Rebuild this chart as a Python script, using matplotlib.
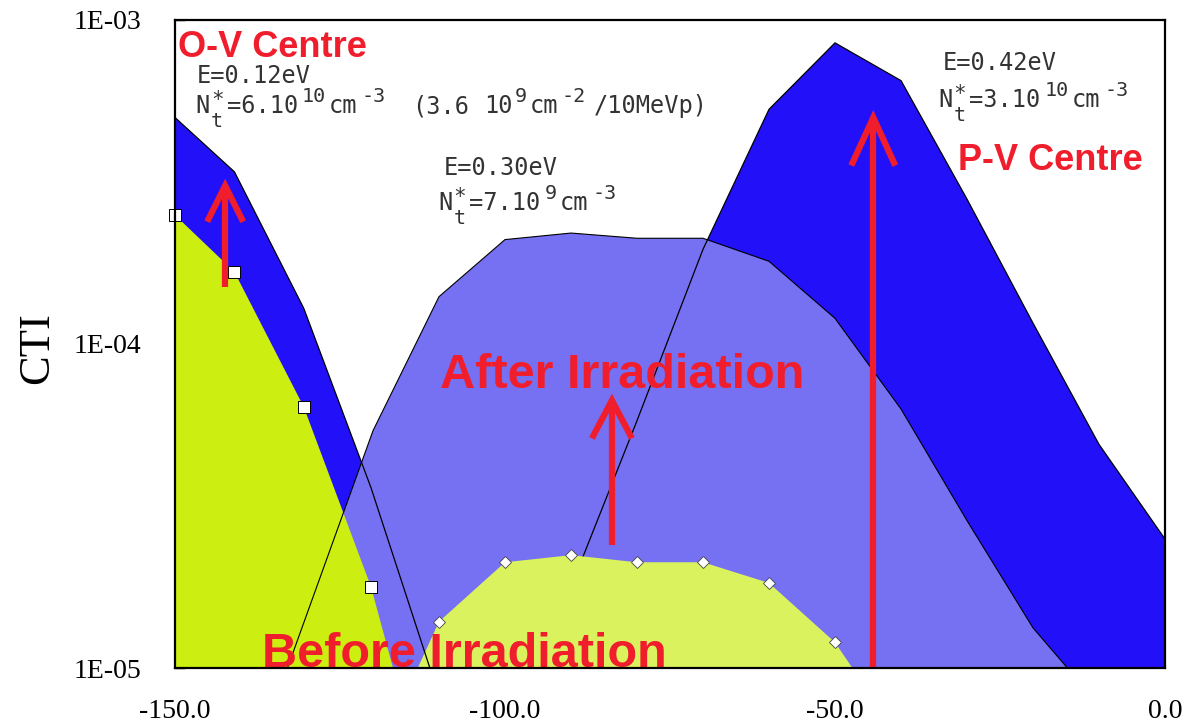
import numpy as np
import matplotlib
matplotlib.use("Agg")
import matplotlib.pyplot as plt

# ---- data -----------------------------------------------------------------
# O-V centre (E = 0.12 eV)
ov_x = [-150.0, -141.0, -130.5, -120.3, -110.0]
ov_before = [2.5e-4, 1.67e-4, 6.4e-5, 1.78e-5, 3.0e-6]
ov_after = [5.0e-4, 3.4e-4, 1.29e-4, 3.6e-5, 8.2e-6]

# E = 0.30 eV level
mid_before_x = [-120.0, -110.0, -100.0, -90.0, -80.0, -70.0, -60.0, -50.0, -40.0]
mid_before = [5.0e-6, 1.39e-5, 2.12e-5, 2.23e-5, 2.12e-5, 2.12e-5, 1.83e-5, 1.2e-5, 6.0e-6]
mid_after_x = [-140.0, -130.0, -120.0, -110.0, -100.0, -90.0, -80.0, -70.0,
               -60.0, -50.0, -40.0, -30.0, -20.0, -10.0]
mid_after = [4.0e-6, 1.47e-5, 5.4e-5, 1.4e-4, 2.1e-4, 2.2e-4, 2.12e-4, 2.12e-4,
             1.8e-4, 1.2e-4, 6.3e-5, 2.85e-5, 1.33e-5, 7.7e-6]

# P-V centre (E = 0.42 eV)
pv_x = [-100.0, -90.0, -80.0, -70.0, -60.0, -50.0, -40.0, -30.0, -20.0, -10.0, 0.0]
pv_after = [5.0e-6, 1.78e-5, 5.8e-5, 1.96e-4, 5.3e-4, 8.5e-4, 6.5e-4, 2.8e-4,
            1.16e-4, 4.9e-5, 2.5e-5]

x_ticks = [-150.0, -100.0, -50.0, 0.0]
x_tick_labels = ["-150.0", "-100.0", "-50.0", "0.0"]
y_ticks = [1e-5, 1e-4, 1e-3]
y_tick_labels = ["1E-05", "1E-04", "1E-03"]

# ---- styling ----------------------------------------------------------------
DARK_BLUE = "#2211F8"
PURPLE = "#7670F2"
YELLOW = "#CCEE11"
LIGHT_YELLOW = "#DAF25E"
RED = "#F01E2D"
TEXT_GREY = "#333333"
MONO = "DejaVu Sans Mono"

FLOOR = 1e-8
Y_MIN, Y_MAX = 1e-5, 1e-3

fig = plt.figure(figsize=(11.87, 7.23), dpi=100)
ax = fig.add_axes([0.14743, 0.07607, 0.83404, 0.89627])
ax.set_yscale("log")
ax.set_xlim(-150, 0)
ax.set_ylim(Y_MIN, Y_MAX)

# filled areas: after irradiation underneath, before irradiation on top
ax.fill_between(ov_x, ov_after, FLOOR, color=DARK_BLUE, lw=0, zorder=1)
ax.fill_between(pv_x, pv_after, FLOOR, color=DARK_BLUE, lw=0, zorder=1)
ax.fill_between(mid_after_x, mid_after, FLOOR, color=PURPLE, lw=0, zorder=2)
ax.plot(pv_x, pv_after, color="black", lw=0.9, zorder=2.5)
ax.fill_between(ov_x, ov_before, FLOOR, color=YELLOW, lw=0, zorder=3)
ax.fill_between(mid_before_x, mid_before, FLOOR, color=LIGHT_YELLOW, lw=0, zorder=3)
ax.plot(ov_x, ov_after, color="black", lw=0.9, zorder=4)
ax.plot(mid_after_x, mid_after, color="black", lw=0.8, zorder=4)

# measured points before irradiation
ovx = np.array(ov_x)
ovb = np.array(ov_before)
vis = ovb >= Y_MIN
ax.plot(ovx[vis], ovb[vis], ls="none", marker="s", ms=8, mfc="white",
        mec="black", mew=0.7, zorder=5, clip_on=False)
mbx = np.array(mid_before_x)
mb = np.array(mid_before)
vis = mb >= Y_MIN
ax.plot(mbx[vis], mb[vis], ls="none", marker="D", ms=6.5, mfc="white",
        mec="#444444", mew=0.6, zorder=5)

# ---- axes decoration ----------------------------------------------------------
serif = "Liberation Serif"
ax.set_xticks(x_ticks)
ax.set_xticklabels(x_tick_labels, fontfamily=serif, fontsize=20)
ax.set_yticks(y_ticks)
ax.set_yticklabels(y_tick_labels, fontfamily=serif, fontsize=20)
ax.yaxis.set_minor_locator(matplotlib.ticker.NullLocator())
ax.tick_params(axis="x", length=0, pad=22)
ax.tick_params(axis="y", direction="in", length=7, width=1, pad=24)
for sp in ax.spines.values():
    sp.set_linewidth(1.6)
    sp.set_zorder(8)

fig.text(37 / 1187, 1 - 348 / 723, "CTI", rotation=90, ha="center", va="center",
         fontfamily=serif, fontsize=32)

# ---- annotations ---------------------------------------------------------------
bold = dict(fontfamily="Liberation Sans", fontweight="bold", color=RED, zorder=7)
ax.text(0.003, 0.957, "O-V Centre", transform=ax.transAxes, ha="left",
        va="center", fontsize=26, **bold)
ax.text(0.791, 0.783, "P-V Centre", transform=ax.transAxes, ha="left",
        va="center", fontsize=26, **bold)
ax.text(0.268, 0.452, "After Irradiation", transform=ax.transAxes, ha="left",
        va="center", fontsize=35, **bold)
ax.text(0.088, 0.021, "Before Irradiation", transform=ax.transAxes, ha="left",
        va="center", fontsize=35, **bold)

MONO_SIZE = 17
ax.text(0.022, 0.914, "E=0.12eV", transform=ax.transAxes, ha="left", va="center",
        fontfamily=MONO, fontsize=MONO_SIZE, color=TEXT_GREY, zorder=7)
ax.text(0.271, 0.771, "E=0.30eV", transform=ax.transAxes, ha="left", va="center",
        fontfamily=MONO, fontsize=MONO_SIZE, color=TEXT_GREY, zorder=7)
ax.text(0.775, 0.933, "E=0.42eV", transform=ax.transAxes, ha="left", va="center",
        fontfamily=MONO, fontsize=MONO_SIZE, color=TEXT_GREY, zorder=7)

# plotter-style line with raised / lowered pieces; offsets in pixels
RAISE = {"base": (0, MONO_SIZE), "sup": (8, 14.5), "sub": (-10, 14.5), "star": (5, 15)}


def mono_line(x_frac, y_frac, pieces):
    for dx_px, text, kind in pieces:
        dy_pt, size = RAISE[kind]
        ax.annotate(text, xy=(x_frac, y_frac), xycoords="axes fraction",
                    xytext=(dx_px * 0.72, dy_pt), textcoords="offset points",
                    ha="left", va="baseline", fontfamily=MONO, fontsize=size,
                    color=TEXT_GREY, zorder=7, annotation_clip=False)


mono_line(0.021, 0.856, [
    (0, "N", "base"), (15, "*", "star"), (15, "t", "sub"),
    (31, "=6.10", "base"), (106, "10", "sup"), (133, "cm", "base"),
    (166, "-3", "sup"), (216, "(3.6", "base"), (288, "10", "base"),
    (319, "9", "sup"), (334, "cm", "base"), (366, "-2", "sup"),
    (398, "/10MeVp)", "base"),
])
mono_line(0.266, 0.707, [
    (0, "N", "base"), (15, "*", "star"), (15, "t", "sub"),
    (31, "=7.10", "base"), (106, "9", "sup"), (121, "cm", "base"),
    (154, "-3", "sup"),
])
mono_line(0.771, 0.866, [
    (0, "N", "base"), (15, "*", "star"), (15, "t", "sub"),
    (31, "=3.10", "base"), (106, "10", "sup"), (133, "cm", "base"),
    (166, "-3", "sup"),
])


# red arrows marking the increase after irradiation (open V heads)
def up_arrow(x, y0, y1, wing_dx, wing_dy):
    style = dict(color=RED, lw=4.5, zorder=6, solid_capstyle="butt")
    ax.plot([x, x], [y0, y1], **style)
    tip = ax.transData.transform((x, y1))
    inv = ax.transData.inverted()
    left = inv.transform((tip[0] - wing_dx, tip[1] - wing_dy))
    right = inv.transform((tip[0] + wing_dx, tip[1] - wing_dy))
    ax.plot([left[0], x, right[0]], [left[1], y1, right[1]],
            solid_joinstyle="miter", **style)


up_arrow(-142.4, 1.5e-4, 3.08e-4, 18, 36)
up_arrow(-83.8, 2.4e-5, 6.7e-5, 20, 38)
up_arrow(-44.2, 1.0e-5, 5.0e-4, 22, 48)

fig.savefig("out.png", dpi=100, facecolor="white")
